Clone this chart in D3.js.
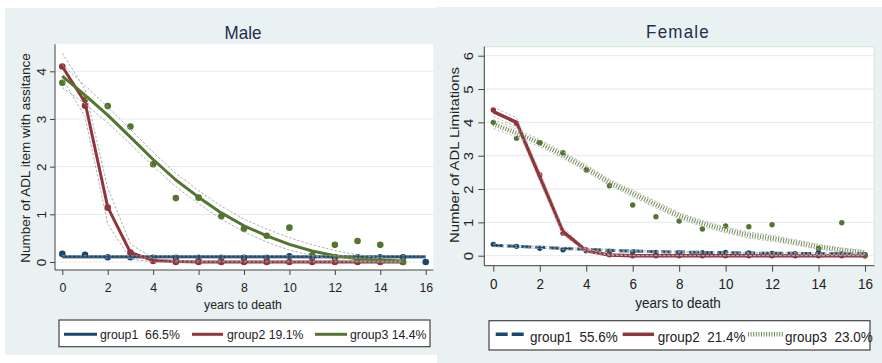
<!DOCTYPE html>
<html><head><meta charset="utf-8">
<script src="https://cdn.jsdelivr.net/npm/d3@7"></script>
<style>
body{margin:0;background:#fff;}
svg{display:block;}
text{font-family:"Liberation Sans",Arial,sans-serif;fill:#222;}
</style>
</head><body>
<svg id="c" width="882" height="363"></svg>
<script>
// ---------- data ----------
const years = [0,1,2,3,4,5,6,7,8,9,10,11,12,13,14,15,16];
const yearsTo15 = [0,1,2,3,4,5,6,7,8,9,10,11,12,13,14,15];

// Male
const maleG1Obs = [0.17,0.15,0.10,0.10,0.09,0.09,0.09,0.09,0.09,0.09,0.12,0.10,0.10,0.10,0.10,0.10,0.00];
const maleG1Fit = [0.11,0.11,0.11,0.11,0.11,0.11,0.11,0.11,0.11,0.11,0.11,0.11,0.11,0.11,0.11,0.11,0.11];
const maleG1Lo  = [0.08,0.08,0.08,0.08,0.08,0.08,0.08,0.08,0.08,0.08,0.08,0.08,0.08,0.08,0.08,0.08,0.08];
const maleG1Hi  = [0.13,0.13,0.13,0.13,0.13,0.13,0.13,0.13,0.13,0.13,0.13,0.13,0.13,0.13,0.13,0.13,0.13];

const maleG2Obs = [4.10,3.28,1.14,0.20,0.02,0.00,0.00,0.00,0.00,0.00,0.00,0.00,0.00,0.00,0.00,0.00];
const maleG2Fit = [4.10,3.35,1.15,0.20,0.03,0.01,0.00,0.00,0.00,0.00,0.00,0.00,0.00,0.00,0.00,0.00];
const maleG2Lo  = [3.85,3.05,0.80,0.06,0.00,0.00,0.00,0.00,0.00,0.00,0.00,0.00,0.00,0.00,0.00,0.00];
const maleG2Hi  = [4.38,3.62,1.55,0.38,0.07,0.03,0.02,0.02,0.02,0.02,0.02,0.02,0.02,0.02,0.02,0.02];

const maleG3Obs = [3.76,3.41,3.27,2.84,2.05,1.34,1.35,0.96,0.70,0.55,0.72,0.14,0.36,0.44,0.36,0.00];
const maleG3Fit = [3.90,3.50,3.08,2.62,2.15,1.72,1.36,1.03,0.76,0.55,0.37,0.23,0.13,0.07,0.04,0.02];
const maleG3Lo  = [3.66,3.32,2.92,2.47,2.01,1.58,1.22,0.90,0.63,0.42,0.25,0.13,0.05,0.01,0.00,0.00];
const maleG3Hi  = [4.14,3.70,3.25,2.78,2.30,1.86,1.50,1.17,0.90,0.69,0.51,0.36,0.24,0.15,0.09,0.05];

// Female
const femG1Obs = [0.34,0.28,0.22,0.18,0.15,0.13,0.11,0.10,0.08,0.09,0.10,0.08,0.07,0.05,0.10,0.05,0.03];
const femG1Fit = [0.31,0.28,0.25,0.22,0.19,0.16,0.14,0.12,0.11,0.10,0.09,0.08,0.07,0.07,0.06,0.06,0.06];
const femG1Lo  = [0.27,0.25,0.22,0.19,0.16,0.14,0.12,0.10,0.09,0.08,0.07,0.06,0.05,0.05,0.04,0.04,0.04];
const femG1Hi  = [0.35,0.31,0.28,0.25,0.22,0.18,0.16,0.14,0.13,0.12,0.11,0.10,0.09,0.09,0.08,0.08,0.08];

const femG2Obs = [4.37,3.97,2.42,0.67,0.17,0.03,0.00,0.00,0.00,0.00,0.00,0.00,0.00,0.00,0.00,0.00,0.00];
const femG2Fit = [4.32,4.00,2.37,0.72,0.15,0.02,0.00,0.00,0.00,0.00,0.00,0.00,0.00,0.00,0.00,0.00,0.00];
const femG2Lo  = [4.18,3.86,2.22,0.62,0.11,0.01,0.00,0.00,0.00,0.00,0.00,0.00,0.00,0.00,0.00,0.00,0.00];
const femG2Hi  = [4.46,4.14,2.52,0.84,0.20,0.04,0.01,0.01,0.01,0.01,0.01,0.01,0.01,0.01,0.01,0.01,0.01];

const femG3Obs = [4.00,3.52,3.39,3.09,2.57,2.10,1.52,1.17,1.04,0.80,0.89,0.87,0.93,0.05,0.22,0.99,0.00];
const femG3Fit = [3.95,3.68,3.38,3.02,2.62,2.20,1.87,1.53,1.20,0.97,0.77,0.62,0.52,0.40,0.27,0.17,0.10];
const femG3Lo  = [3.82,3.56,3.27,2.92,2.52,2.11,1.77,1.43,1.11,0.88,0.68,0.53,0.43,0.32,0.20,0.11,0.05];
const femG3Hi  = [4.08,3.80,3.49,3.12,2.72,2.29,1.97,1.63,1.29,1.06,0.86,0.71,0.61,0.48,0.34,0.23,0.15];

const xTicks = [0,2,4,6,8,10,12,14,16];
const maleYTicks = [0,1,2,3,4];
const femYTicks = [0,1,2,3,4,5,6];
const maleLegend = ["group1  66.5%","group2 19.1%","group3 14.4%"];
const femLegend  = ["group1  55.6%","group2  21.4%","group3  23.0%"];

// ---------- styles ----------
const NAVY = "#1a476f", MAROON = "#90353b", GREEN = "#55752f";
const BG = "#e9f1f3", GRID = "#e6eef1";
const FONT = '"Liberation Sans", Arial, sans-serif';

const svg = d3.select("#c");

function hText(g, x, y, s, fs, anchor, extra) {
  const t = g.append("text")
    .attr("transform", `translate(${x},${y}) scale(1,1.1)`)
    .attr("font-size", fs).attr("text-anchor", anchor || "start")
    .style("white-space", "pre").text(s);
  if (extra) extra(t);
  return t;
}
function vText(g, x, y, s, fs) {
  return g.append("text")
    .attr("transform", `translate(${x},${y}) rotate(-90) scale(1.1,1)`)
    .attr("font-size", fs).attr("text-anchor", "middle").text(s);
}
function zip(xs, vs) { return vs.map((v, i) => [xs[i], v]); }

function panel(cfg) {
  const g = svg.append("g");
  g.append("rect").attr("x", cfg.bg[0]).attr("y", cfg.bg[1])
    .attr("width", cfg.bg[2]).attr("height", cfg.bg[3]).attr("fill", BG);
  const pr = cfg.plot;
  g.append("rect").attr("x", pr[0]).attr("y", pr[1]).attr("width", pr[2] - pr[0])
    .attr("height", pr[3] - pr[1]).attr("fill", "#fff")
    .attr("stroke", cfg.frame || "none").attr("stroke-width", 1);

  const x = d3.scaleLinear().domain([0, 16]).range(cfg.xr);
  const y = d3.scaleLinear().domain([0, cfg.yMax]).range(cfg.yr);

  g.append("g").selectAll("line").data(cfg.yTicks).join("line")
    .attr("x1", pr[0] + 1).attr("x2", pr[2]).attr("y1", d => y(d)).attr("y2", d => y(d))
    .attr("stroke", GRID).attr("stroke-width", 1.2);

  const ax = g.append("g").attr("transform", `translate(0,${pr[3]})`)
    .call(d3.axisBottom(x).tickValues(xTicks).tickFormat(d3.format("d")).tickSize(cfg.tick).tickSizeOuter(0).tickPadding(0));
  ax.select(".domain").attr("d", `M${pr[0]},0H${pr[2]}`).attr("stroke", "#444");
  ax.selectAll(".tick line").attr("stroke", "#444");
  ax.selectAll(".tick text").attr("y", null).attr("dy", null)
    .attr("font-size", cfg.fs).attr("font-family", FONT).attr("fill", "#222")
    .attr("transform", `translate(0,${cfg.xLabOff}) scale(1,1.1)`);

  const ay = g.append("g").attr("transform", `translate(${pr[0]},0)`)
    .call(d3.axisLeft(y).tickValues(cfg.yTicks).tickFormat(d3.format("d")).tickSize(cfg.tick).tickSizeOuter(0).tickPadding(0));
  ay.select(".domain").attr("d", `M0,${pr[1]}V${pr[3]}`).attr("stroke", "#444");
  ay.selectAll(".tick line").attr("stroke", "#444");
  ay.selectAll(".tick text").attr("x", null).attr("dy", null).attr("text-anchor", "middle")
    .attr("font-size", cfg.fs).attr("font-family", FONT).attr("fill", "#222")
    .attr("transform", `translate(${-cfg.yLabOff},0) rotate(-90) scale(1.1,1)`);

  hText(g, cfg.titleX, cfg.titleY, cfg.title, cfg.titleFs, "middle",
    t => t.style("fill", "#1e2d50").attr("letter-spacing", cfg.titleLs || 0));
  hText(g, cfg.titleX, cfg.xTitleY, "years to death", cfg.fs, "middle");
  vText(g, cfg.yTitleX, cfg.yTitleY, cfg.yTitle, cfg.fs);

  const line = d3.line().x(d => x(d[0])).y(d => y(d[1]));

  cfg.series.forEach(s => {
    g.append("g").selectAll("circle").data(zip(s.xs, s.obs)).join("circle")
      .attr("cx", d => x(d[0])).attr("cy", d => y(d[1])).attr("r", cfg.r).attr("fill", s.color);
  });
  cfg.series.forEach(s => {
    g.append("path").datum(zip(s.xs, s.fit)).attr("d", line).attr("fill", "none")
      .attr("stroke", s.color).attr("stroke-width", s.w).attr("stroke-opacity", s.op || 1)
      .attr("stroke-dasharray", s.dash || null).attr("stroke-linejoin", "round");
  });
  cfg.series.forEach(s => {
    [s.lo, s.hi].forEach(b => {
      g.append("path").datum(zip(s.xs, b)).attr("d", line).attr("fill", "none")
        .attr("stroke", cfg.ciColor).attr("stroke-width", 0.9).attr("stroke-dasharray", "2.5,1.8");
    });
  });

  const lb = cfg.legBox;
  g.append("rect").attr("x", lb[0]).attr("y", lb[1]).attr("width", lb[2] - lb[0]).attr("height", lb[3] - lb[1])
    .attr("fill", "#fff").attr("stroke", "#444").attr("stroke-width", 1.2);
  cfg.series.forEach((s, i) => {
    const L = cfg.legItems[i];
    g.append("line").attr("x1", L[0]).attr("x2", L[1]).attr("y1", cfg.legLineY).attr("y2", cfg.legLineY)
      .attr("stroke", s.color).attr("stroke-width", s.legW || s.w).attr("stroke-opacity", s.op || 1)
      .attr("stroke-dasharray", s.legDash || s.dash || null);
    hText(g, L[2], cfg.legTextY, cfg.legend[i], cfg.fs, "start");
  });
}

panel({
  bg: [5, 8, 432, 347],
  plot: [55, 44.3, 433.3, 270],
  xr: [62.3, 425.7], yr: [262, 71.3], yMax: 4,
  yTicks: maleYTicks, tick: 5, fs: 12.3,
  xLabOff: 21.5, yLabOff: 8.9,
  title: "Male", titleX: 243, titleY: 39.3, titleFs: 17,
  xTitleY: 309.3, yTitle: "Number of ADL item with assitance", yTitleX: 30, yTitleY: 158,
  r: 3.3, ciColor: "#a5a5a5",
  series: [
    {xs: years, obs: maleG1Obs, fit: maleG1Fit, lo: maleG1Lo, hi: maleG1Hi, color: NAVY, w: 3},
    {xs: yearsTo15, obs: maleG2Obs, fit: maleG2Fit, lo: maleG2Lo, hi: maleG2Hi, color: MAROON, w: 3},
    {xs: yearsTo15, obs: maleG3Obs, fit: maleG3Fit, lo: maleG3Lo, hi: maleG3Hi, color: GREEN, w: 3}
  ],
  legBox: [59, 320, 430, 346.7], legLineY: 334.3, legTextY: 339.3,
  legItems: [[64, 97, 100], [192, 223, 227], [315, 347, 350]],
  legend: maleLegend
});

panel({
  bg: [437, 7, 445, 356],
  plot: [484.3, 46.7, 874.3, 265.7],
  frame: "#d3e6cd",
  xr: [493.3, 865], yr: [255.7, 55.7], yMax: 6,
  yTicks: femYTicks, tick: 6, fs: 13.5,
  xLabOff: 23.6, yLabOff: 11.2,
  title: "Female", titleX: 678, titleY: 37.7, titleFs: 17, titleLs: 1.2,
  xTitleY: 308.3, yTitle: "Number of ADL Limitations", yTitleX: 459, yTitleY: 155,
  r: 2.7, ciColor: "#b5b5b5",
  series: [
    {xs: years, obs: femG1Obs, fit: femG1Fit, lo: femG1Lo, hi: femG1Hi, color: NAVY, w: 3, dash: "10,4", legW: 3.5, legDash: "12,4"},
    {xs: years, obs: femG2Obs, fit: femG2Fit, lo: femG2Lo, hi: femG2Hi, color: MAROON, w: 3.5},
    {xs: years, obs: femG3Obs, fit: femG3Fit, lo: femG3Lo, hi: femG3Hi, color: GREEN, w: 4.5, dash: "1,1.6", op: 0.85}
  ],
  legBox: [489, 320.7, 870, 350], legLineY: 334.3, legTextY: 341.7,
  legItems: [[495.7, 526.7, 530], [622.7, 654, 657.7], [748, 783, 785]],
  legend: femLegend
});
</script>
</body></html>
